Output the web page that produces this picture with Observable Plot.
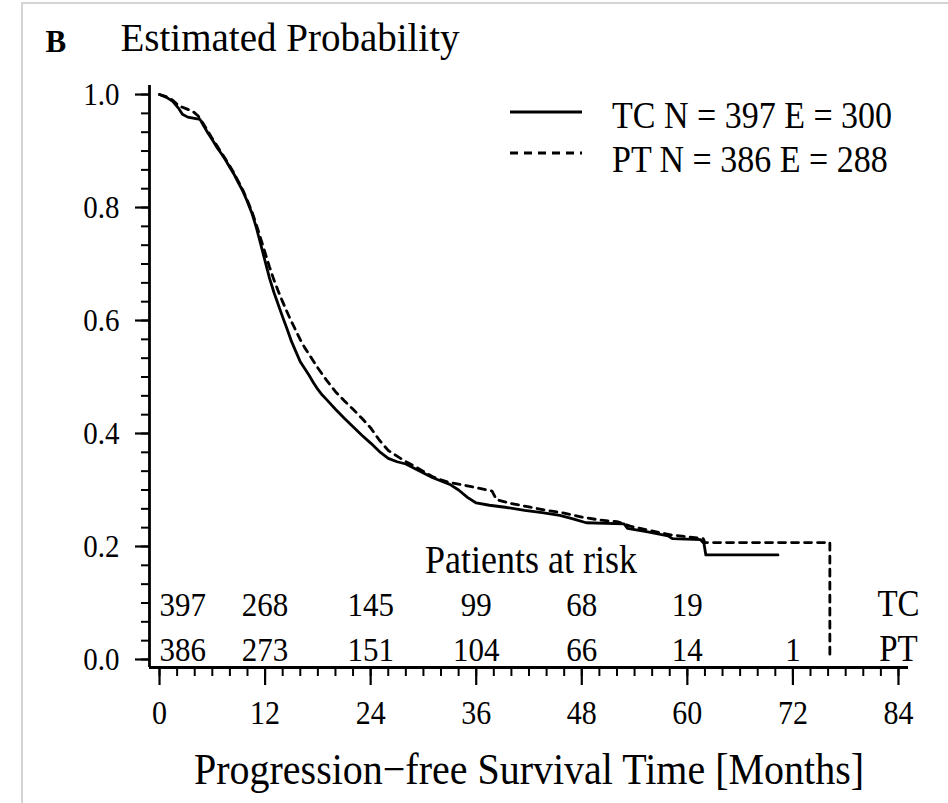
<!DOCTYPE html>
<html><head><meta charset="utf-8">
<script src="https://cdn.jsdelivr.net/npm/d3@7"></script>
<script src="https://cdn.jsdelivr.net/npm/@observablehq/plot@0.6"></script>
<style>
body{margin:0;background:#fff;}
#wrap{position:relative;width:948px;height:803px;overflow:hidden;}
#frame{position:absolute;left:21px;top:2px;width:1000px;height:1000px;border-left:2px solid #d4d4d4;border-top:2px solid #d4d4d4;}
#chart{position:absolute;left:0;top:0;}
svg text{font-family:"Liberation Serif","DejaVu Serif",serif;}
</style></head><body><div id="wrap"><div id="frame"></div><div id="chart"></div></div>
<script>
// Kaplan-Meier estimates
const tcMonths = [0,0.8,1.5,2.2,2.6,3.2,4.6,5.0,5.5,6.0,6.5,7.0,7.5,8.0,8.5,9.0,9.5,10.0,10.5,11.0,11.5,12.0,12.5,13.0,13.5,14.0,14.5,15.0,15.5,16.0,16.5,17.0,17.5,18.0,18.5,19.0,20.0,21.0,22.0,23.0,24.0,25.0,26.0,27.0,28.0,29.0,30.0,31.0,32.0,33.0,34.0,35.0,36.0,37.5,39.5,41.5,43.5,45.5,47.0,48.5,52.8,53.2,55.5,57.8,58.3,61.5,61.9,62.1,70.3];
const tcSurv   = [1.0,0.995,0.988,0.975,0.965,0.96,0.956,0.945,0.932,0.92,0.907,0.896,0.884,0.871,0.858,0.843,0.828,0.81,0.79,0.765,0.735,0.705,0.675,0.65,0.628,0.606,0.585,0.563,0.545,0.527,0.515,0.503,0.49,0.478,0.468,0.46,0.443,0.427,0.412,0.397,0.383,0.368,0.356,0.35,0.346,0.338,0.33,0.322,0.316,0.31,0.3,0.287,0.277,0.273,0.269,0.264,0.26,0.255,0.249,0.242,0.24,0.232,0.226,0.219,0.214,0.212,0.205,0.185,0.185];
const ptMonths = [0,0.8,1.5,2.2,3.0,3.8,4.4,5.0,5.5,6.0,6.5,7.0,7.5,8.0,8.5,9.0,9.5,10.0,10.5,11.0,11.5,12.0,12.5,13.0,13.5,14.0,14.5,15.0,15.5,16.0,16.5,17.0,17.5,18.0,18.5,19.0,20.0,21.0,22.0,23.0,24.0,25.0,26.0,27.0,28.0,29.0,30.0,31.0,32.0,33.0,34.5,36.0,37.8,38.3,40.0,42.0,44.0,46.0,48.0,50.0,52.0,53.5,55.5,58.0,60.0,61.8,62.0,76.2,76.2];
const ptSurv   = [1.0,0.996,0.99,0.98,0.975,0.97,0.962,0.948,0.935,0.922,0.91,0.898,0.886,0.873,0.86,0.845,0.83,0.812,0.793,0.77,0.745,0.72,0.695,0.672,0.652,0.633,0.615,0.598,0.582,0.566,0.552,0.54,0.528,0.516,0.505,0.494,0.474,0.458,0.443,0.427,0.41,0.388,0.37,0.36,0.35,0.342,0.333,0.324,0.318,0.313,0.309,0.304,0.298,0.283,0.276,0.27,0.264,0.259,0.252,0.247,0.244,0.236,0.229,0.221,0.217,0.214,0.207,0.207,0.0];

// Patients at risk
const riskMonths = [0,12,24,36,48,60,72];
const tcRisk = [397,268,145,99,68,19,null];
const ptRisk = [386,273,151,104,66,14,1];
const groupNames = ["TC","PT"];
const legendLabels = ["TC N = 397 E = 300","PT N = 386 E = 288"];

// Axes
const xTicks = [0,12,24,36,48,60,72,84];
const yTicks = [0.0,0.2,0.4,0.6,0.8,1.0];
const yTickLabels = ["0.0","0.2","0.4","0.6","0.8","1.0"];
const xLabel = "Progression\u2212free Survival Time [Months]";
const titleLetter = "B";
const titleText = "Estimated Probability";
const riskTitle = "Patients at risk";

const xMinor = d3.range(0, 85, 2);
const yMinor = d3.range(0, 31).map(i => i / 30);
const xDomain = [-1.14, 85.14];
const yDomain = [-0.0142, 1.016];

const tc = tcMonths.map((m,i) => ({month:m, surv:tcSurv[i]}));
const pt = ptMonths.map((m,i) => ({month:m, surv:ptSurv[i]}));
const tcRows = riskMonths.map((m,i) => ({month:m, n:tcRisk[i]})).filter(d => d.n != null);
const ptRows = riskMonths.map((m,i) => ({month:m, n:ptRisk[i]})).filter(d => d.n != null);
const lastX = xTicks[xTicks.length-1];

const riskMarks = (rows, dy, name) => [
  Plot.text(rows.filter(d => d.month === 0), {x:"month", text:d => String(d.n), frameAnchor:"bottom", dy, lineAnchor:"bottom", textAnchor:"start", fontSize:31}),
  Plot.text(rows.filter(d => d.month !== 0), {x:"month", text:d => String(d.n), frameAnchor:"bottom", dy, lineAnchor:"bottom", textAnchor:"middle", fontSize:31}),
  Plot.text([name], {x:() => lastX, text:d => d, frameAnchor:"bottom", dy, lineAnchor:"bottom", textAnchor:"middle", fontSize:33})
];

const plot = Plot.plot({
  width: 948, height: 803,
  marginLeft: 149, marginRight: 40, marginTop: 85, marginBottom: 136,
  x: {domain: xDomain},
  y: {domain: yDomain},
  style: {fontFamily: "Liberation Serif", background: "transparent", color: "black"},
  marks: [
    Plot.ruleX([xDomain[0]], {strokeWidth: 2.8}),
    Plot.ruleY([yDomain[0]], {strokeWidth: 2.8}),
    Plot.axisY({ticks: yMinor, tickSize: 8, fill: "none", strokeWidth: 2, label: null}),
    Plot.axisY({ticks: yTicks, tickSize: 14, tickPadding: 16, tickFormat: (d) => yTickLabels[yTicks.indexOf(d)] ?? d3.format(".1f")(d), fontSize: 29, strokeWidth: 2.2, label: null}),
    Plot.axisX({ticks: xMinor, tickSize: 9, fill: "none", strokeWidth: 2, label: null}),
    Plot.axisX({ticks: xTicks, tickSize: 18, tickPadding: 15, fontSize: 30, strokeWidth: 2.2, label: null}),
    Plot.line(tc, {x:"month", y:"surv", stroke:"black", strokeWidth:2.8}),
    Plot.line(pt, {x:"month", y:"surv", stroke:"black", strokeWidth:2.8, strokeDasharray:"7,6"}),
    Plot.text([riskTitle], {text:d => d, frameAnchor:"bottom", dy:-95, dx:2, lineAnchor:"bottom", fontSize:36}),
    ...riskMarks(tcRows, -52, groupNames[0]),
    ...riskMarks(ptRows, -7, groupNames[1]),
    Plot.text([titleLetter], {text:d => d, frameAnchor:"top-left", dx:-104, dy:-34, lineAnchor:"bottom", textAnchor:"start", fontSize:31, fontWeight:"bold"}),
    Plot.text([titleText], {text:d => d, frameAnchor:"top-left", dx:-29, dy:-35, lineAnchor:"bottom", textAnchor:"start", fontSize:39}),
    Plot.text([xLabel], {text:d => d, frameAnchor:"bottom", dy:116, lineAnchor:"bottom", fontSize:40})
  ]
});
document.getElementById("chart").appendChild(plot);

// Slightly taller glyphs, as in the reference typesetting
const stretch = (el, s) => {
  const t = el.getAttribute("transform");
  if (t) el.setAttribute("transform", t + ` scale(1,${s})`);
  else {
    const x = +el.getAttribute("x") || 0, y = +el.getAttribute("y") || 0;
    el.setAttribute("transform", `translate(${x},${y}) scale(1,${s}) translate(${-x},${-y})`);
  }
};
d3.select(plot).selectAll("text").each(function() {
  if (this.textContent === titleText || this.textContent === titleLetter) return;
  stretch(this, 1.12);
});

// Legend
const svg = d3.select(plot);
const lg = svg.append("g").attr("text-anchor", "start");
const legendY = [112, 153];
const legendBase = [128, 172];
lg.selectAll("line").data(groupNames).join("line")
  .attr("x1", 510).attr("x2", 582)
  .attr("y1", (d,i) => legendY[i]).attr("y2", (d,i) => legendY[i])
  .attr("stroke", "black").attr("stroke-width", 3)
  .attr("stroke-dasharray", (d,i) => i === 0 ? null : "8,6");
lg.selectAll("text").data(legendLabels).join("text")
  .attr("x", 612).attr("y", (d,i) => legendBase[i])
  .attr("font-size", 34).attr("fill", "black")
  .attr("text-anchor", "start")
  .attr("transform", (d,i) => `translate(0,${legendBase[i]}) scale(1,1.1) translate(0,${-legendBase[i]})`)
  .text(d => d);
</script></body></html>
